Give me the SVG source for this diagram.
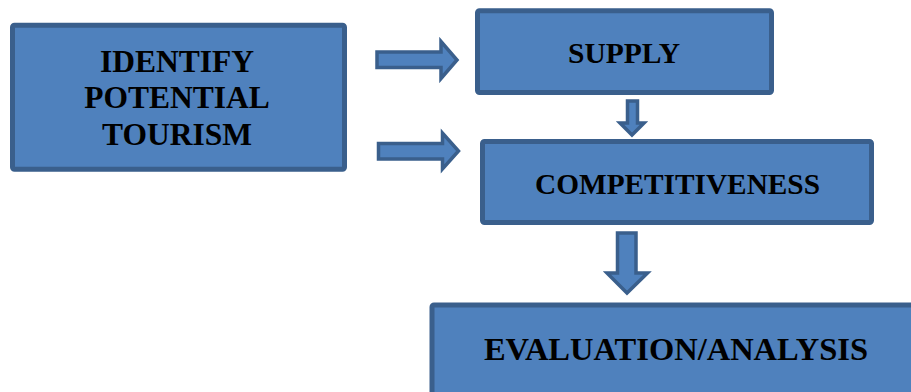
<svg xmlns="http://www.w3.org/2000/svg" width="911" height="392" viewBox="0 0 911 392">
<style>
.box{fill:#4F81BD;stroke:#3A5F8C;stroke-width:5}
.arr{fill:#4F81BD;stroke:#3A5F8C;stroke-width:3.5;stroke-linejoin:miter}
.t{font-family:"Liberation Serif","Times New Roman",serif;font-weight:bold;fill:#000;text-anchor:middle}
</style>
<rect width="911" height="392" fill="#fff"/>
<g id="identify">
<rect class="box" x="12.5" y="25.2" width="332" height="144" rx="2"/>
<text class="t" font-size="31.5" x="177" y="71.5">IDENTIFY</text>
<text class="t" font-size="31.5" x="177" y="108">POTENTIAL</text>
<text class="t" font-size="31.5" x="177" y="145">TOURISM</text>
</g>
<g id="supply">
<rect class="box" x="477.5" y="10.8" width="294" height="81.7" rx="2"/>
<text class="t" font-size="29.5" x="624" y="63.3">SUPPLY</text>
</g>
<g id="competitiveness">
<rect class="box" x="482.5" y="141.5" width="389" height="81" rx="2"/>
<text class="t" font-size="29.3" x="677.5" y="194">COMPETITIVENESS</text>
</g>
<g id="evaluation">
<rect class="box" x="432" y="305" width="490" height="100" rx="2"/>
<text class="t" font-size="32.5" x="676" y="360">EVALUATION/ANALYSIS</text>
</g>
<g id="connectors">
<polygon class="arr" points="377,52 441,52 441,41.5 457,60 441,78.5 441,67.5 377,67.5"/>
<polygon class="arr" points="378.5,143.5 442.5,143.5 442.5,133 458.5,151 442.5,169 442.5,159 378.5,159"/>
<polygon class="arr" points="627.5,101 637.5,101 637.5,123 644,123 632,135 620,123 627.5,123"/>
<polygon class="arr" points="617.5,233 636,233 636,273 647.5,273 627,293 607,273 617.5,273"/>
</g>
</svg>
